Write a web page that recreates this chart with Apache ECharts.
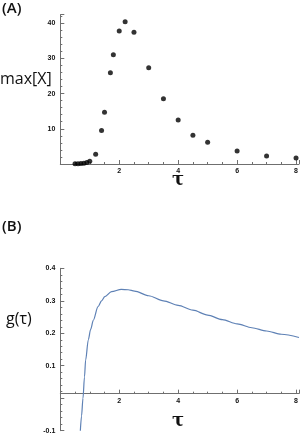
<!DOCTYPE html>
<html>
<head>
<meta charset="utf-8">
<script src="https://cdn.jsdelivr.net/npm/echarts@6/dist/echarts.min.js"></script>
<style>html,body{margin:0;padding:0;background:#fff}#c{width:303px;height:436px}</style>
</head>
<body>
<div id="c"></div>
<script>
// Panel A: scatter of max[X] versus tau
const tauA = [0.5, 0.6, 0.7, 0.8, 0.9, 1.0, 1.2, 1.4, 1.5, 1.7, 1.8, 2.0, 2.2, 2.5, 3.0, 3.5, 4.0, 4.5, 5.0, 6.0, 7.0, 8.0];
const maxX = [0.05, 0.08, 0.12, 0.2, 0.4, 0.8, 2.75, 9.5, 14.7, 25.9, 31.0, 37.8, 40.4, 37.4, 27.3, 18.5, 12.5, 8.2, 6.2, 3.7, 2.3, 1.7];
// Panel B: curve g(tau)
const tauB = [0.68, 0.72, 0.77, 0.82, 0.86, 0.95, 1.03, 1.12, 1.28, 1.4, 1.51, 1.74, 2.07, 2.3, 2.52, 3.0, 3.5, 4.0, 4.5, 5.0, 5.5, 6.0, 6.5, 7.0, 7.5, 8.1];
const gTau = [-0.1, -0.055, 0, 0.065, 0.118, 0.18, 0.212, 0.24, 0.282, 0.3, 0.313, 0.328, 0.335, 0.334, 0.330, 0.3155, 0.300, 0.286, 0.271, 0.256, 0.242, 0.229, 0.217, 0.207, 0.197, 0.187];
const xTickLabels = ['2', '4', '6', '8'];
const yTickLabelsA = ['10', '20', '30', '40'];
const yTickLabelsB = ['-0.1', '0.1', '0.2', '0.3', '0.4'];

const axisColor = '#6f6f6f';
const labelStyle = {fontFamily: 'Liberation Sans', fontWeight: 'bold', fontSize: 7, color: '#111'};

function fmt(list) {
  return function (v) {
    const s = String(+(+v).toFixed(1));
    return list.indexOf(s) >= 0 ? s : '';
  };
}

function xAxis(gridIndex) {
  return {
    type: 'value', gridIndex: gridIndex, min: 0, max: 8.1, interval: 2,
    position: 'bottom', offset: 0,
    axisLine: {onZero: false, lineStyle: {color: axisColor, width: 1}},
    axisTick: {show: true, inside: true, length: 4, lineStyle: {color: axisColor, width: 1}},
    minorTick: {show: true, splitNumber: 4, length: 2, lineStyle: {color: axisColor, width: 1}},
    splitLine: {show: false},
    axisLabel: Object.assign({margin: 4, showMaxLabel: false, formatter: fmt(xTickLabels)}, labelStyle)
  };
}
function yAxis(gridIndex, min, max, interval, labels) {
  return {
    type: 'value', gridIndex: gridIndex, min: min, max: max, interval: interval,
    axisLine: {show: true, onZero: false, lineStyle: {color: axisColor, width: 1}},
    axisTick: {show: true, inside: true, length: 4, lineStyle: {color: axisColor, width: 1}},
    minorTick: {show: true, splitNumber: 5, length: 2, lineStyle: {color: axisColor, width: 1}},
    splitLine: {show: false},
    axisLabel: Object.assign({margin: 5, formatter: fmt(labels)}, labelStyle)
  };
}

const chart = echarts.init(document.getElementById('c'), null, {renderer: 'canvas'});
const grids = [
  {left: 60.3, right: 4, top: 14.7, height: 149.3},
  {left: 60.3, right: 4, top: 268.3, height: 162.4}
];
chart.setOption({
  animation: false,
  backgroundColor: '#fff',
  grid: grids,
  xAxis: [xAxis(0), xAxis(1)],
  yAxis: [yAxis(0, 0, 42.4, 10, yTickLabelsA), yAxis(1, -0.1, 0.4, 0.1, yTickLabelsB)],
  series: [
    {
      type: 'scatter', xAxisIndex: 0, yAxisIndex: 0,
      data: tauA.map((t, i) => [t, maxX[i]]),
      symbolSize: 5, itemStyle: {color: '#000'}
    },
    {
      type: 'line', xAxisIndex: 1, yAxisIndex: 1,
      data: tauB.map((t, i) => [t, gTau[i]]),
      smooth: 0.3, smoothMonotone: 'x', showSymbol: false, clip: true,
      lineStyle: {color: '#5E81B5', width: 1.2}
    }
  ],
  graphic: [
    {type: 'text', left: 2, top: 1, style: {text: '(A)', font: '600 15px "Open Sans"', fill: '#111'}},
    {type: 'text', left: 0, top: 71, style: {text: 'max[X]', font: '16px "Open Sans"', fill: '#111'}},
    {type: 'text', left: 172, top: 171, style: {text: 'τ', font: 'bold 18px "DejaVu Serif"', fill: '#111'}},
    {type: 'text', left: 2, top: 219, style: {text: '(B)', font: '600 15px "Open Sans"', fill: '#111'}},
    {type: 'text', left: 6, top: 311, style: {text: 'g(τ)', font: '16px "Open Sans"', fill: '#111'}},
    {type: 'text', left: 172, top: 412, style: {text: 'τ', font: 'bold 18px "DejaVu Serif"', fill: '#111'}}
  ]
});
// Place panel B's horizontal axis on the zero line (as in the reference), using the library's scale.
const zeroY = chart.convertToPixel({xAxisIndex: 1, yAxisIndex: 1}, [0, 0])[1];
const bottomY = grids[1].top + grids[1].height;
chart.setOption({xAxis: [{}, {offset: -(bottomY - zeroY)}]});
</script>
</body>
</html>
